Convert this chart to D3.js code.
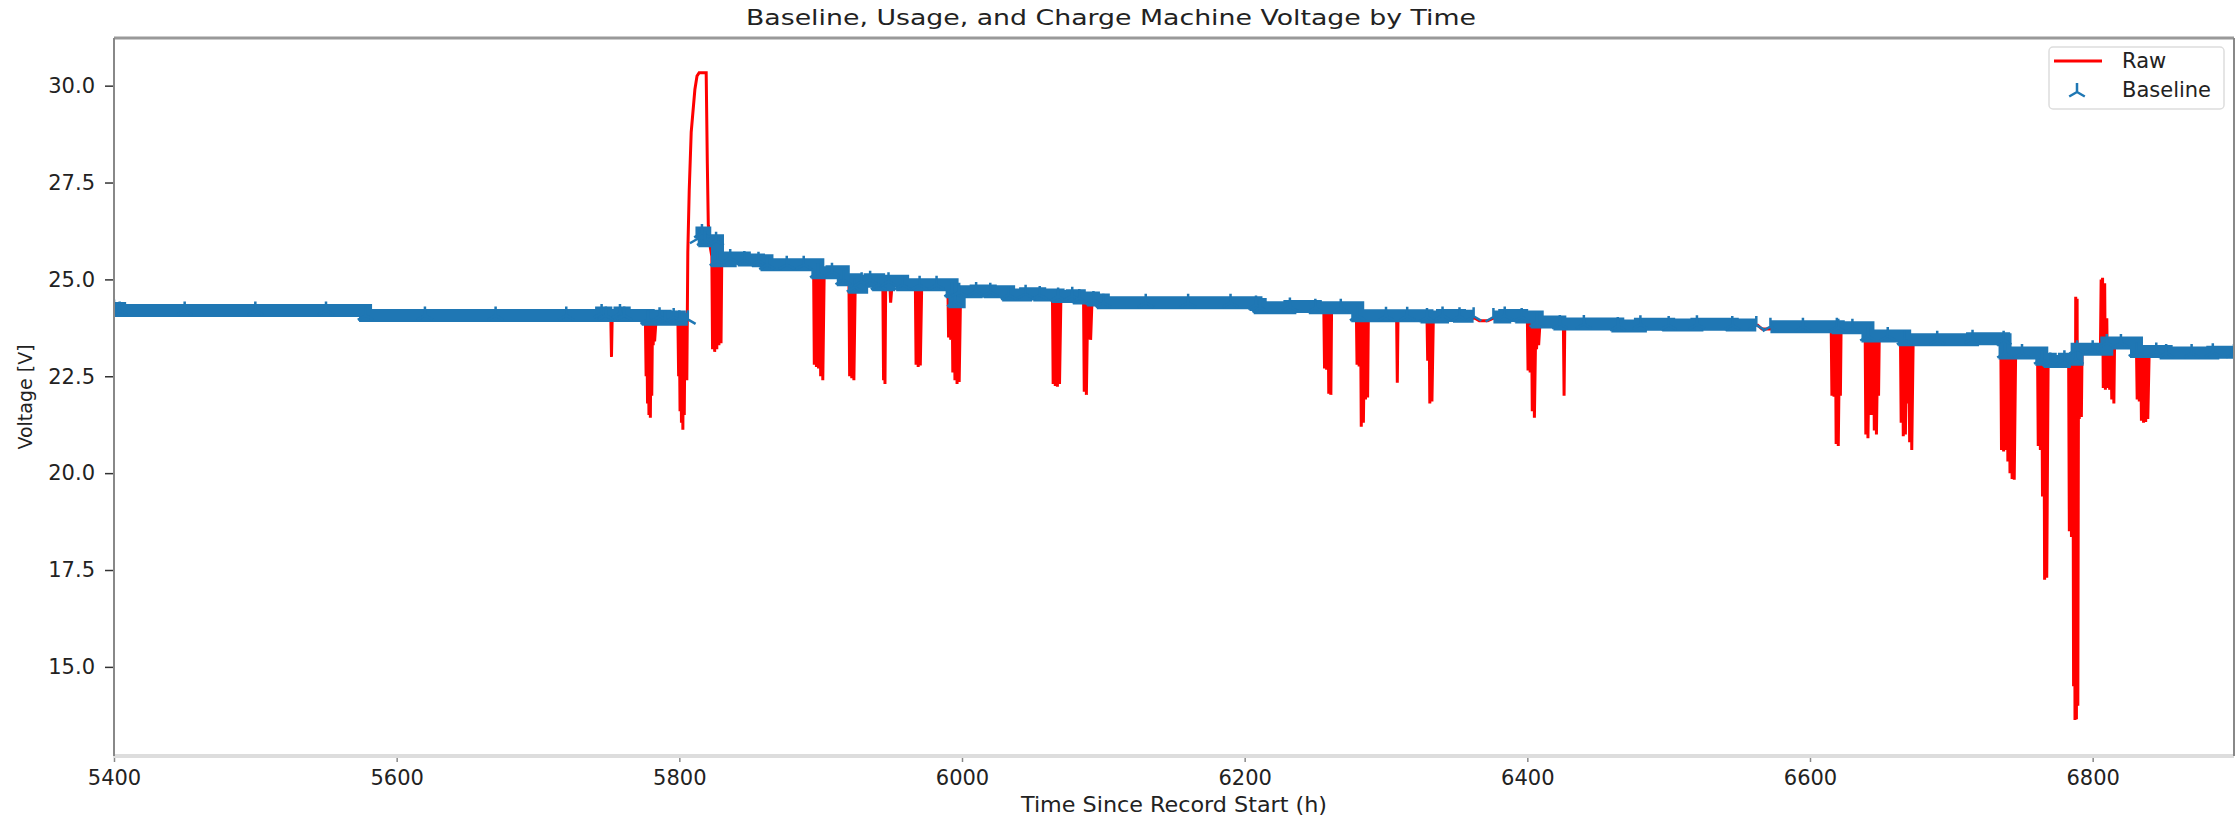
<!DOCTYPE html>
<html lang="en">
<head>
<meta charset="UTF-8">
<title>Baseline, Usage, and Charge Machine Voltage by Time</title>
<script src="https://cdn.jsdelivr.net/npm/d3@7/dist/d3.min.js"></script>
<style>
    body { margin: 0; background: #fff; }
    svg text { font-family: "DejaVu Sans", sans-serif; fill: #222; }
    .raw { fill: none; stroke: #ff0000; stroke-width: 3; }
    .band { fill: none; stroke: #1f77b4; stroke-width: 13; }
    .tri { fill: none; stroke: #1f77b4; stroke-width: 2.5; }
</style>
</head>
<body>
<svg id="chart" width="2239" height="816"></svg>
<script>
"use strict";

// tick labels
var xTicks = [5400, 5600, 5800, 6000, 6200, 6400, 6600, 6800];
var yTicks = [15.0, 17.5, 20.0, 22.5, 25.0, 27.5, 30.0];

// baseline levels [hour, volt] (null = no baseline there)
var baseline = [
    [5400, 24.25], [5404, 24.2], [5450, 24.2], [5500, 24.2], [5550, 24.2],
    [5578, 24.07], [5620, 24.07], [5670, 24.07], [5720, 24.07], [5745, 24.13],
    [5748, 24.07], [5758, 24.13], [5761, 24.07], [5778, 23.97], [5786, 24.05],
    [5790, 23.97], [5796, 24.03], [5800, 23.97], [5806, 23.97], [5807, null],
    [5813, 26.05], [5816, 26.2], [5818, 26.0], [5826, 26.0], [5827, 25.48],
    [5836, 25.55], [5846, 25.5], [5856, 25.48], [5862, 25.38], [5876, 25.38],
    [5888, 25.38], [5898, 25.17], [5908, 25.2], [5916, 24.99], [5924, 24.8],
    [5929, 24.95], [5935, 24.99], [5941, 24.86], [5948, 24.95], [5958, 24.86],
    [5970, 24.86], [5982, 24.86], [5993, 24.68], [5995, 24.42], [5998, 24.68],
    [6010, 24.7], [6020, 24.68], [6033, 24.6], [6045, 24.63], [6055, 24.6],
    [6068, 24.56], [6078, 24.58], [6083, 24.52], [6093, 24.47], [6100, 24.4],
    [6130, 24.4], [6160, 24.4], [6190, 24.4], [6208, 24.35], [6211, 24.27],
    [6232, 24.3], [6250, 24.27], [6268, 24.27], [6280, 24.06], [6300, 24.06],
    [6315, 24.06], [6329, 24.03], [6340, 24.07], [6352, 24.05], [6362, 24.05],
    [6363, null], [6376, 24.03], [6384, 24.07], [6396, 24.03], [6407, 23.9],
    [6423, 23.85], [6440, 23.85], [6464, 23.8], [6480, 23.84], [6500, 23.82],
    [6520, 23.84], [6545, 23.82], [6562, 23.82], [6563, null], [6572, 23.78],
    [6595, 23.78], [6619, 23.78], [6620, 23.75], [6630, 23.75], [6641, 23.54],
    [6655, 23.54], [6667, 23.44], [6690, 23.44], [6715, 23.47], [6737, 23.44],
    [6738, 23.1], [6750, 23.1], [6764, 22.94], [6770, 22.88], [6780, 22.94],
    [6788, 22.94], [6789, 23.2], [6800, 23.2], [6810, 23.36], [6820, 23.36],
    [6831, 23.14], [6845, 23.14], [6852, 23.1], [6870, 23.1], [6885, 23.12],
    [6900, 23.1]
];

// raw readings [hour, volt]
var raw = [
    [5400, 24.15], [5401, 24.25], [5402, 24.15], [5578, 24.15], [5579, 24.05],
    [5751.5, 24.05], [5752, 23.0], [5752.5, 24.05],
    [5776, 23.95], [5776.5, 22.5], [5777, 23.9], [5777.5, 21.8], [5778, 23.9], [5778.5, 21.5],
    [5779, 23.9], [5779.5, 21.43], [5780, 23.9], [5780.5, 22.0], [5781, 23.9], [5781.5, 23.3],
    [5782, 23.9], [5782.5, 23.4], [5783.5, 23.95],
    [5799, 23.95], [5799.5, 22.5], [5800, 23.9], [5800.5, 21.6], [5801, 23.9], [5801.5, 21.3],
    [5802, 23.9], [5802.5, 21.12], [5803, 23.9], [5803.5, 21.5], [5804, 23.9], [5804.5, 22.4],
    [5805, 23.9], [5805.3, 22.4],
    [5806, 25.7], [5807, 27.3], [5808.4, 28.8], [5811, 29.9], [5812.5, 30.25], [5814, 30.33],
    [5819, 30.33], [5819.8, 28.0], [5820.5, 26.4], [5822, 25.8],
    [5823, 25.6], [5823.5, 23.2], [5824.5, 25.5], [5825, 23.13], [5826, 25.5], [5826.5, 23.2],
    [5827.5, 25.5], [5828, 23.3], [5829, 25.45], [5829.5, 23.35], [5830, 25.45],
    [5862, 25.4], [5895, 25.35], [5895.5, 22.8], [5896.5, 25.3], [5897, 22.74], [5898, 25.2],
    [5898.5, 22.7], [5899.5, 25.2], [5900, 22.5], [5901, 25.2], [5901.5, 22.4], [5902.5, 25.2],
    [5916, 25.0], [5920, 25.0], [5920.5, 22.5], [5921.5, 25.0], [5922, 22.45], [5923, 25.0],
    [5923.5, 22.4], [5924.5, 25.0],
    [5941, 24.86], [5944, 24.86], [5944.5, 22.4], [5945, 24.8], [5945.5, 22.3], [5946, 24.86],
    [5949, 24.86], [5949.5, 24.4], [5950.5, 24.86],
    [5967, 24.86], [5967.5, 22.8], [5968.5, 24.86], [5969, 22.74], [5970, 24.86], [5970.5, 22.78],
    [5971.5, 24.86],
    [5990, 24.86], [5990.5, 23.5], [5991.5, 24.8], [5992, 23.44], [5993, 24.7], [5993.5, 22.6],
    [5994.5, 24.68], [5995, 22.4], [5996, 24.68], [5996.5, 22.3], [5997.5, 24.68], [5998, 22.35],
    [5999, 24.68],
    [6033, 24.62], [6064, 24.6], [6064.5, 22.3], [6065.5, 24.6], [6066, 22.25], [6067, 24.6],
    [6067.5, 22.23], [6068.5, 24.58], [6069, 22.3], [6070, 24.58],
    [6086, 24.55], [6086.5, 22.1], [6087.5, 24.55], [6088, 22.02], [6089, 24.5], [6089.5, 23.45],
    [6090.5, 24.5], [6091, 23.44], [6092, 24.47],
    [6100, 24.4], [6211, 24.35], [6213, 24.28],
    [6256, 24.27], [6256.5, 22.7], [6257.5, 24.27], [6258, 22.67], [6259, 24.27], [6259.5, 22.05],
    [6260.5, 24.27], [6261, 22.02], [6261.5, 24.27],
    [6279, 24.27], [6279.5, 22.8], [6280.5, 24.1], [6281, 22.75], [6282, 24.06], [6282.5, 21.2],
    [6283.5, 24.06], [6284, 21.3], [6285, 24.06], [6285.5, 21.9], [6286.5, 24.06], [6287, 21.95],
    [6287.5, 24.06],
    [6307.5, 24.06], [6308, 22.33], [6308.5, 24.06],
    [6329, 24.05], [6329.5, 22.9], [6330.5, 24.03], [6331, 21.8], [6332, 24.03], [6332.5, 21.85],
    [6333.5, 24.03],
    [6363, 24.0], [6366, 23.93], [6372, 23.93], [6376, 24.0],
    [6400, 24.03], [6400.5, 22.65], [6401.5, 24.0], [6402, 22.6], [6403, 24.0], [6403.5, 21.6],
    [6404.5, 23.95], [6405, 21.43], [6406, 23.9], [6406.5, 23.2], [6407.5, 23.9], [6408, 23.3],
    [6409, 23.9],
    [6425.5, 23.87], [6426, 22.0], [6426.5, 23.85],
    [6563, 23.82], [6566, 23.72], [6572, 23.72],
    [6615, 23.78], [6615.5, 22.0], [6616.5, 23.78], [6617, 21.97], [6618, 23.78], [6618.5, 20.75],
    [6619.5, 23.76], [6620, 20.7], [6621, 23.75], [6621.5, 22.0], [6622, 23.75],
    [6639, 23.75], [6639.5, 21.0], [6640.5, 23.7], [6641, 20.9], [6642, 23.6], [6642.5, 21.5],
    [6643.5, 23.55], [6644, 21.5], [6645, 23.54], [6645.5, 21.1], [6646.5, 23.54], [6647, 21.0],
    [6648, 23.54], [6648.5, 22.0], [6649, 23.54],
    [6664, 23.54], [6664.5, 21.3], [6665.5, 23.5], [6666, 20.95], [6667, 23.45], [6667.5, 21.0],
    [6668.5, 23.44], [6669, 21.8], [6670, 23.44], [6670.5, 20.8], [6671.5, 23.44], [6672, 20.6],
    [6673, 23.44],
    [6735, 23.44], [6735.5, 20.6], [6736.5, 23.4], [6737, 20.56], [6738, 23.2], [6738.5, 20.6],
    [6739.5, 23.1], [6740, 20.3], [6741, 23.1], [6741.5, 20.0], [6742.5, 23.1], [6743, 19.85],
    [6744, 23.1], [6744.5, 19.83], [6745.5, 23.1],
    [6761, 23.1], [6761.5, 20.7], [6762.5, 23.0], [6763, 20.6], [6764, 22.95], [6764.5, 19.4],
    [6765.5, 22.94], [6766, 17.25], [6767, 22.94], [6767.5, 17.3], [6768.5, 22.94],
    [6783, 22.94], [6783.5, 18.5], [6784.5, 22.94], [6785, 18.35], [6786, 22.94], [6786.5, 14.5],
    [6787, 22.9], [6787.5, 13.63], [6788, 24.55], [6788.5, 13.65], [6789, 24.5], [6789.5, 14.0],
    [6790, 23.2], [6790.5, 21.4], [6791.5, 23.2], [6792, 21.45], [6792.5, 23.2],
    [6805.5, 23.2], [6806, 25.0], [6806.5, 23.5], [6807, 25.04], [6807.5, 22.2], [6808.5, 24.9],
    [6809, 22.15], [6810, 24.0], [6810.5, 22.2], [6811.5, 23.36], [6812, 22.15], [6813, 23.36],
    [6813.5, 21.9], [6814.5, 23.36], [6815, 21.8], [6815.5, 23.36],
    [6831, 23.2], [6831.5, 21.9], [6832.5, 23.14], [6833, 21.85], [6834, 23.14], [6834.5, 21.35],
    [6835.5, 23.14], [6836, 21.3], [6837, 23.14], [6837.5, 21.32], [6838.5, 23.14], [6839, 21.4],
    [6840, 23.14],
    [6900, 23.1]
];

var plotLeft = 114, plotRight = 2234, plotTop = 38, plotBottom = 756;

var svg = d3.select('#chart');

var x = d3.scaleLinear().domain([5400, 6900]).range([plotLeft, plotRight]);
var y = d3.scaleLinear().domain([12.7, 31.23]).range([plotBottom, plotTop]);

svg.append('clipPath').attr('id', 'plot')
    .append('rect')
    .attr('x', plotLeft).attr('y', plotTop)
    .attr('width', plotRight - plotLeft).attr('height', plotBottom - plotTop);

var plot = svg.append('g').attr('clip-path', 'url(#plot)');

// raw line
var rawLine = d3.line()
    .x(function(d) { return x(d[0]); })
    .y(function(d) { return y(d[1]); });

plot.append('path')
    .datum(raw)
    .attr('class', 'raw')
    .attr('d', rawLine);

// baseline: dense tri_up markers drawn as a band plus markers
var bandLine = d3.line()
    .defined(function(d) { return d[1] !== null; })
    .curve(d3.curveStepAfter)
    .x(function(d) { return x(d[0]); })
    .y(function(d) { return y(d[1]); });

plot.append('path')
    .datum(baseline)
    .attr('class', 'band')
    .attr('d', bandLine);

var s = 9;
var triPath = 'M0,0L0,' + (-s) + 'M0,0L' + (-0.866 * s) + ',' + (0.5 * s) +
    'M0,0L' + (0.866 * s) + ',' + (0.5 * s);

plot.selectAll('path.tri')
    .data(baseline.filter(function(d) { return d[1] !== null; }))
    .enter().append('path')
    .attr('class', 'tri')
    .attr('transform', function(d) { return 'translate(' + x(d[0]) + ',' + y(d[1]) + ')'; })
    .attr('d', triPath);

// axes
var yAxis = svg.append('g')
    .attr('transform', 'translate(' + plotLeft + ',0)')
    .call(d3.axisLeft(y).tickValues(yTicks).tickFormat(d3.format('.1f'))
        .tickSize(9).tickPadding(10));
yAxis.select('.domain').remove();
yAxis.selectAll('line').attr('stroke', '#333').attr('stroke-width', 1.5);
yAxis.selectAll('text').style('font-size', '21px').attr('fill', '#222');

var xAxis = svg.append('g')
    .attr('transform', 'translate(0,' + plotBottom + ')')
    .call(d3.axisBottom(x).tickValues(xTicks).tickFormat(d3.format('d'))
        .tickSize(6).tickPadding(8));
xAxis.select('.domain').remove();
xAxis.selectAll('line').attr('stroke', '#888').attr('stroke-width', 1.5);
xAxis.selectAll('text').style('font-size', '21px').attr('fill', '#222');

// spines
svg.append('line').attr('x1', plotLeft).attr('x2', plotRight).attr('y1', plotTop).attr('y2', plotTop)
    .attr('stroke', '#999').attr('stroke-width', 3);
svg.append('line').attr('x1', plotLeft).attr('x2', plotRight).attr('y1', plotBottom).attr('y2', plotBottom)
    .attr('stroke', '#ddd').attr('stroke-width', 4);
svg.append('line').attr('x1', plotLeft).attr('x2', plotLeft).attr('y1', plotTop).attr('y2', plotBottom)
    .attr('stroke', '#888').attr('stroke-width', 2);
svg.append('line').attr('x1', plotRight).attr('x2', plotRight).attr('y1', plotTop).attr('y2', plotBottom)
    .attr('stroke', '#888').attr('stroke-width', 2);

// title and labels
svg.append('text')
    .attr('x', 1111).attr('y', 25)
    .attr('text-anchor', 'middle')
    .attr('textLength', 730).attr('lengthAdjust', 'spacingAndGlyphs')
    .style('font-size', '22px')
    .text('Baseline, Usage, and Charge Machine Voltage by Time');

svg.append('text')
    .attr('x', (plotLeft + plotRight) / 2).attr('y', 812)
    .attr('text-anchor', 'middle')
    .attr('textLength', 306).attr('lengthAdjust', 'spacingAndGlyphs')
    .style('font-size', '21px')
    .text('Time Since Record Start (h)');

svg.append('text')
    .attr('transform', 'translate(32,' + ((plotTop + plotBottom) / 2) + ') rotate(-90)')
    .attr('text-anchor', 'middle')
    .style('font-size', '19px')
    .text('Voltage [V]');

// legend
var legend = svg.append('g').attr('transform', 'translate(2049,47)');
legend.append('rect')
    .attr('width', 175).attr('height', 62).attr('rx', 4)
    .attr('fill', '#fff').attr('fill-opacity', 0.8)
    .attr('stroke', '#ddd').attr('stroke-width', 1.5);
legend.append('line')
    .attr('x1', 5).attr('x2', 53).attr('y1', 14).attr('y2', 14)
    .attr('stroke', '#ff0000').attr('stroke-width', 3);
legend.append('path')
    .attr('class', 'tri')
    .attr('transform', 'translate(28,45)')
    .attr('d', triPath);
legend.append('text').attr('x', 73).attr('y', 14).attr('dy', '0.35em')
    .style('font-size', '21px').text('Raw');
legend.append('text').attr('x', 73).attr('y', 43).attr('dy', '0.35em')
    .style('font-size', '21px').text('Baseline');
</script>
</body>
</html>
